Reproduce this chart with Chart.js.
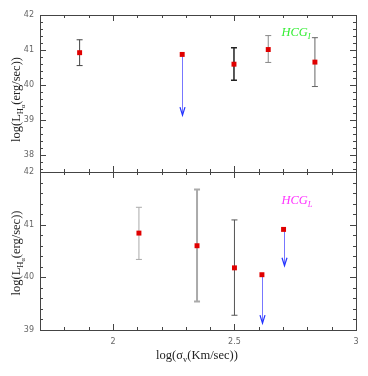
<!DOCTYPE html>
<html><head><meta charset="utf-8">
<script src="https://cdn.jsdelivr.net/npm/chart.js@4/dist/chart.umd.min.js"></script>
<style>html,body{margin:0;padding:0;background:#fff}#wrap{width:368px;height:376px}</style>
</head><body><div id="wrap"><canvas id="c" width="368" height="376"></canvas></div>
<script>
// ---- data ----
const topX = [1.863, 2.498, 2.639, 2.831];
const topY = [40.92, 40.59, 41.01, 40.65];
const topHi = [41.29, 41.06, 41.41, 41.35];
const topLo = [40.55, 40.13, 40.64, 39.95];
const topLimX = [2.285];
const topLimY = [40.87];
const topLimEnd = [39.13];

const botX = [2.107, 2.346, 2.500];
const botY = [40.84, 40.60, 40.18];
const botHi = [41.33, 41.67, 41.09];
const botLo = [40.34, 39.54, 39.28];
const botLimX = [2.613, 2.702];
const botLimY = [40.05, 40.91];
const botLimEnd = [39.13, 40.22];

const xTickLabels = [2, 2.5, 3];
const topTickLabels = [38, 39, 40, 41, 42];
const botTickLabels = [39, 40, 41, 42];

const topErrColors = ['#444', '#222', '#888', '#666'];
const botErrColors = ['#aaa', '#aaa', '#555'];
const topErrWidths = [1, 1.5, 1, 1];
const botErrWidths = [1, 2, 1];

function pts(xs, ys) { return xs.map((x, i) => ({x: x, y: ys[i]})); }

function drawRich(ctx, segs, x, y, color) {
  const sizes = [12.5, 8.5, 6.5], offs = [0, 3, 5];
  let w = 0;
  segs.forEach(s => { ctx.font = (s.it ? 'italic ' : '') + sizes[s.l] + 'px "Liberation Serif"'; w += ctx.measureText(s.t).width; });
  let cx = x - w / 2;
  ctx.fillStyle = color; ctx.textBaseline = 'alphabetic'; ctx.textAlign = 'left';
  segs.forEach(s => {
    ctx.font = (s.it ? 'italic ' : '') + sizes[s.l] + 'px "Liberation Serif"';
    ctx.fillText(s.t, cx, y + offs[s.l]);
    cx += ctx.measureText(s.t).width;
  });
}

const deco = {
  id: 'deco',
  beforeDatasetsDraw(chart) {
    const ctx = chart.ctx, xs = chart.scales.x, yT = chart.scales.yT, yB = chart.scales.yB;
    ctx.save();
    function errs(X, H, L, cols, wid, ys) {
      X.forEach((v, i) => {
        const px = xs.getPixelForValue(v), ph = ys.getPixelForValue(H[i]), pl = ys.getPixelForValue(L[i]);
        ctx.strokeStyle = cols[i]; ctx.lineWidth = wid[i];
        ctx.beginPath();
        ctx.moveTo(px, ph); ctx.lineTo(px, pl);
        ctx.moveTo(px - 3, ph); ctx.lineTo(px + 3, ph);
        ctx.moveTo(px - 3, pl); ctx.lineTo(px + 3, pl);
        ctx.stroke();
      });
    }
    function lims(X, Y, E, ys) {
      X.forEach((v, i) => {
        const px = Math.round(xs.getPixelForValue(v)) + 0.5, p0 = ys.getPixelForValue(Y[i]), p1 = ys.getPixelForValue(E[i]);
        ctx.strokeStyle = '#7777ff'; ctx.lineWidth = 1;
        ctx.beginPath(); ctx.moveTo(px, p0); ctx.lineTo(px, p1); ctx.stroke();
        ctx.strokeStyle = '#2233ff'; ctx.lineWidth = 1.2;
        ctx.beginPath();
        ctx.moveTo(px - 2.5, p1 - 8); ctx.lineTo(px, p1); ctx.lineTo(px + 2.5, p1 - 8);
        ctx.stroke();
      });
    }
    errs(topX, topHi, topLo, topErrColors, topErrWidths, yT);
    errs(botX, botHi, botLo, botErrColors, botErrWidths, yB);
    lims(topLimX, topLimY, topLimEnd, yT);
    lims(botLimX, botLimY, botLimEnd, yB);
    ctx.restore();
  },
  afterDraw(chart) {
    const ctx = chart.ctx, xs = chart.scales.x, yT = chart.scales.yT, yB = chart.scales.yB;
    const L = xs.left, R = xs.right;
    ctx.save();
    ctx.strokeStyle = '#444'; ctx.lineWidth = 1;
    [yT, yB].forEach((ys, k) => {
      const T = ys.top, B = ys.bottom;
      ctx.strokeRect(Math.round(L) + 0.5, Math.round(T) + 0.5, Math.round(R - L), Math.round(B - T));
      ctx.beginPath();
      for (let i = 17; i <= 30; i++) {
        const v = i / 10, px = Math.round(xs.getPixelForValue(v)) + 0.5, len = (i % 5 === 0) ? 6 : 3;
        ctx.moveTo(px, T); ctx.lineTo(px, T + len);
        ctx.moveTo(px, B); ctx.lineTo(px, B - len);
      }
      const lo = k === 0 ? 37.6 : 39, hi = 42;
      for (let v = Math.round(lo * 5); v <= hi * 5; v++) {
        const val = v / 5, py = Math.round(ys.getPixelForValue(val)) + 0.5, len = (v % 5 === 0) ? 6 : 3;
        ctx.moveTo(L, py); ctx.lineTo(L + len, py);
        ctx.moveTo(R, py); ctx.lineTo(R - len, py);
      }
      ctx.stroke();
    });
    ctx.save();
    ctx.translate(16, (yT.top + yT.bottom) / 2 + 6);
    ctx.rotate(-Math.PI / 2);
    drawRich(ctx, [{t: 'log(L', l: 0}, {t: 'H', l: 1}, {t: 'α', l: 2}, {t: '(erg/sec))', l: 0}], 0, 4, '#222');
    ctx.restore();
    ctx.save();
    ctx.translate(16, (yB.top + yB.bottom) / 2 + 2);
    ctx.rotate(-Math.PI / 2);
    drawRich(ctx, [{t: 'log(L', l: 0}, {t: 'H', l: 1}, {t: 'α', l: 2}, {t: '(erg/sec))', l: 0}], 0, 4, '#222');
    ctx.restore();
    drawRich(ctx, [{t: 'log(σ', l: 0}, {t: 'v', l: 1}, {t: '(Km/sec))', l: 0}], 197, 359, '#222');
    drawRich(ctx, [{t: 'HCG', l: 0, it: true}, {t: 'I', l: 1, it: true}], 296, 36, '#33ee33');
    drawRich(ctx, [{t: 'HCG', l: 0, it: true}, {t: 'L', l: 1, it: true}], 297, 204, '#ff33ff');
    ctx.restore();
  }
};

const pointStyle = {pointStyle: 'rect', pointRadius: 3.5, pointHoverRadius: 3.5, backgroundColor: '#e00000', borderColor: '#e00000', borderWidth: 0, showLine: false};
const tickFont = {family: 'DejaVu Sans', size: 8};

new Chart(document.getElementById('c'), {
  type: 'scatter',
  data: {
    datasets: [
      Object.assign({data: pts(topX, topY), yAxisID: 'yT'}, pointStyle),
      Object.assign({data: pts(topLimX, topLimY), yAxisID: 'yT'}, pointStyle),
      Object.assign({data: pts(botX, botY), yAxisID: 'yB'}, pointStyle),
      Object.assign({data: pts(botLimX, botLimY), yAxisID: 'yB'}, pointStyle)
    ]
  },
  options: {
    responsive: false, animation: false, events: [],
    layout: {padding: {top: 15, right: 12, left: 0, bottom: 0}},
    plugins: {legend: {display: false}, tooltip: {enabled: false}},
    scales: {
      x: {
        type: 'linear', min: 1.7, max: 3.0, position: 'bottom',
        grid: {display: false, drawTicks: false}, border: {display: false},
        afterBuildTicks: s => { s.ticks = xTickLabels.map(v => ({value: v})); },
        afterFit: s => { s.height = 46; },
        ticks: {color: '#666', font: tickFont, padding: 7, maxRotation: 0, callback: v => String(v)}
      },
      yB: {
        type: 'linear', min: 39, max: 42, position: 'left', stack: 'panels', stackWeight: 158,
        grid: {display: false, drawTicks: false}, border: {display: false},
        afterBuildTicks: s => { s.ticks = botTickLabels.map(v => ({value: v})); },
        afterFit: s => { s.width = 40; },
        ticks: {color: '#666', font: tickFont, padding: 6, callback: v => String(v)}
      },
      yT: {
        type: 'linear', min: 37.5, max: 42, position: 'left', stack: 'panels', stackWeight: 157,
        grid: {display: false, drawTicks: false}, border: {display: false},
        afterBuildTicks: s => { s.ticks = topTickLabels.map(v => ({value: v})); },
        afterFit: s => { s.width = 40; },
        ticks: {color: '#666', font: tickFont, padding: 6, callback: v => String(v)}
      }
    }
  },
  plugins: [deco]
});
</script></body></html>
